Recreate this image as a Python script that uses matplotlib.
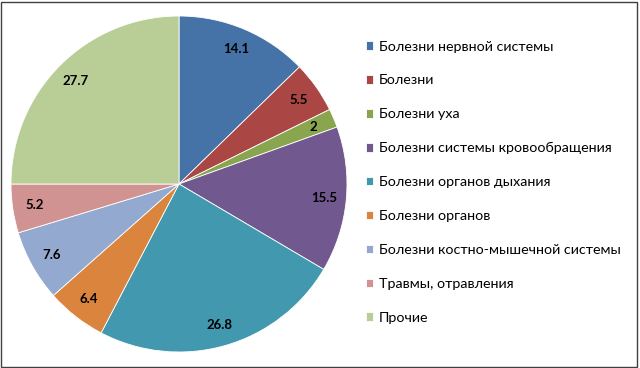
import numpy as np
import matplotlib.pyplot as plt
from matplotlib.patches import Rectangle

categories = [
    "Болезни нервной системы",
    "Болезни",
    "Болезни уха",
    "Болезни системы кровообращения",
    "Болезни органов дыхания",
    "Болезни органов",
    "Болезни костно-мышечной системы",
    "Травмы, отравления",
    "Прочие",
]
values = [14.1, 5.5, 2, 15.5, 26.8, 6.4, 7.6, 5.2, 27.7]
value_labels = ["14.1", "5.5", "2", "15.5", "26.8", "6.4", "7.6", "5.2", "27.7"]
colors = ["#4572A7", "#AA4643", "#89A54E", "#71588F", "#4198AF",
          "#DB843D", "#93A9CF", "#D19392", "#B9CD96"]

plt.rcParams['font.family'] = ['Lato', 'DejaVu Sans']

fig = plt.figure(figsize=(6.4, 3.68), dpi=100)
ax = fig.add_axes([11 / 640, 16 / 368, 336 / 640, 336 / 368])

wedges, _ = ax.pie(values, colors=colors, startangle=90, counterclock=False,
                   wedgeprops=dict(edgecolor="white", linewidth=0.6))
ax.set_xlim(-1, 1)
ax.set_ylim(-1, 1)
ax.set_aspect("equal")

# value labels inside each slice
for w, lab in zip(wedges, value_labels):
    ang = np.deg2rad((w.theta1 + w.theta2) / 2)
    r = 0.87
    ax.text(r * np.cos(ang), r * np.sin(ang), lab, ha="center", va="center",
            fontsize=9.5, fontweight="bold", color="black")

fig.legend(wedges, categories, loc="center left", bbox_to_anchor=(0.551, 0.505),
           frameon=False, fontsize=10.3, handlelength=0.55, handleheight=0.55,
           handletextpad=0.4, labelspacing=1.53)

fig.patches.append(Rectangle((0.002, 0.004), 0.993, 0.99, transform=fig.transFigure,
                             fill=False, edgecolor="#404040", linewidth=1))

fig.savefig("out.png", dpi=100)
